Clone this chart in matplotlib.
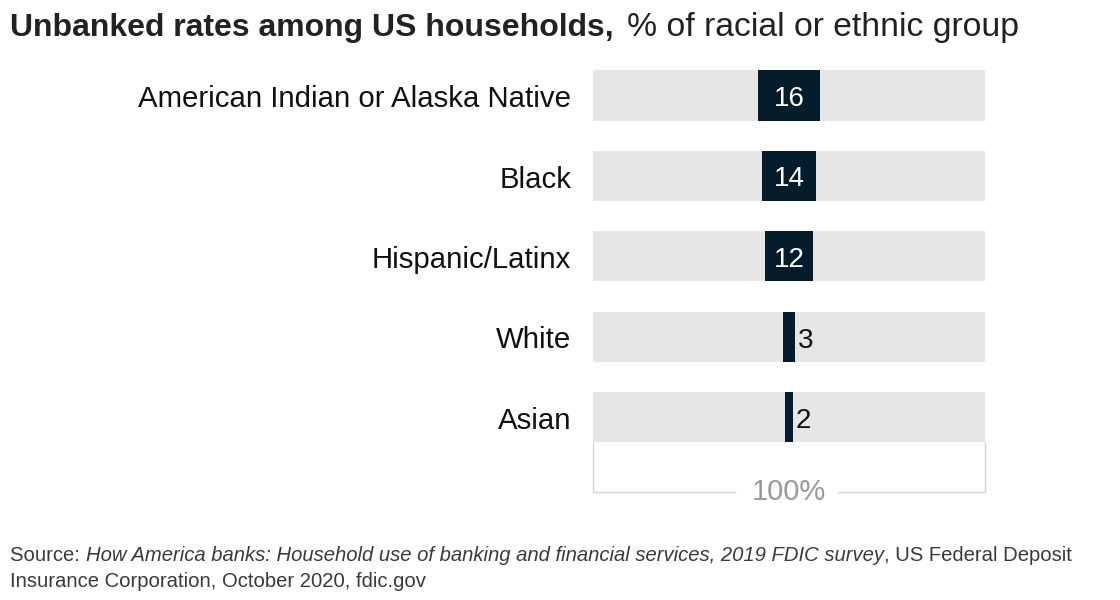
import matplotlib
matplotlib.use("Agg")
import matplotlib.pyplot as plt

groups = ["American Indian or Alaska Native", "Black", "Hispanic/Latinx", "White", "Asian"]
rates = [16, 14, 12, 3, 2]

navy = "#051c2c"
grey_bar = "#e6e6e6"
line_grey = "#d2d2d2"

plt.rcParams["font.family"] = ["Liberation Sans", "DejaVu Sans"]

fig = plt.figure(figsize=(11.2, 6), dpi=100)
ax = fig.add_axes([593 / 1120, 1 - 513.6 / 600, 392 / 1120, (513.6 - 55.3) / 600])

ypos = list(range(len(groups)))
h = 0.625

# full-width background bars (100%) and centred value bars
ax.barh(ypos, [100] * len(groups), height=h, left=0, color=grey_bar, zorder=1)
ax.barh(ypos, rates, height=h, left=[50 - r / 2 for r in rates], color=navy, zorder=2)

for y, g, r in zip(ypos, groups, rates):
    ax.text(-5.5, y + 0.145, g, ha="right", va="baseline", fontsize=21.2, color="#111111")
    if r >= 10:
        ax.text(50, y + 0.13, str(r), ha="center", va="baseline", fontsize=20, color="white", zorder=3)
    else:
        ax.text(50 + r / 2 + 0.8, y + 0.14, str(r), ha="left", va="baseline", fontsize=20,
                color="#111111", zorder=3)

# bracket under the bars with 100% label
yb = 4.928
ytop = 4 + h / 2
kw = dict(color=line_grey, lw=1, zorder=0, clip_on=False, solid_capstyle="butt")
ax.plot([0.1, 0.1], [ytop, yb], **kw)
ax.plot([99.9, 99.9], [ytop, yb], **kw)
ax.plot([0, 36.5], [yb, yb], **kw)
ax.plot([62.5, 100], [yb, yb], **kw)
ax.text(50, 5.031, "100%", ha="center", va="baseline", fontsize=21, color="#999999")

ax.set_xlim(0, 100)
ax.set_ylim(5.2, -0.5)
ax.axis("off")

# title with bold and regular parts
renderer = fig.canvas.get_renderer()
ty = 1 - 36 / 600
t1 = fig.text(10 / 1120, ty, "Unbanked rates among US households,", fontsize=23,
              fontweight="bold", color="#222222", va="baseline", ha="left")
bb = t1.get_window_extent(renderer)
fig.text((bb.x1 + 13) / 1120, ty, "% of racial or ethnic group", fontsize=24.3,
         color="#222222", va="baseline", ha="left")

# source line with italic title
src_color = "#3a3a3a"
y1 = 1 - 561 / 600
pieces = [("Source: ", "normal"),
          ("How America banks: Household use of banking and financial services, 2019 FDIC survey", "italic"),
          (", US Federal Deposit", "normal")]
x = 10
for txt, style in pieces:
    t = fig.text(x / 1120, y1, txt, fontsize=14.6, style=style, color=src_color, va="baseline", ha="left")
    x = t.get_window_extent(renderer).x1
fig.text(10 / 1120, 1 - 587 / 600, "Insurance Corporation, October 2020, fdic.gov", fontsize=14.6,
         color=src_color, va="baseline", ha="left")

fig.savefig("out.png", dpi=100, facecolor="white")
